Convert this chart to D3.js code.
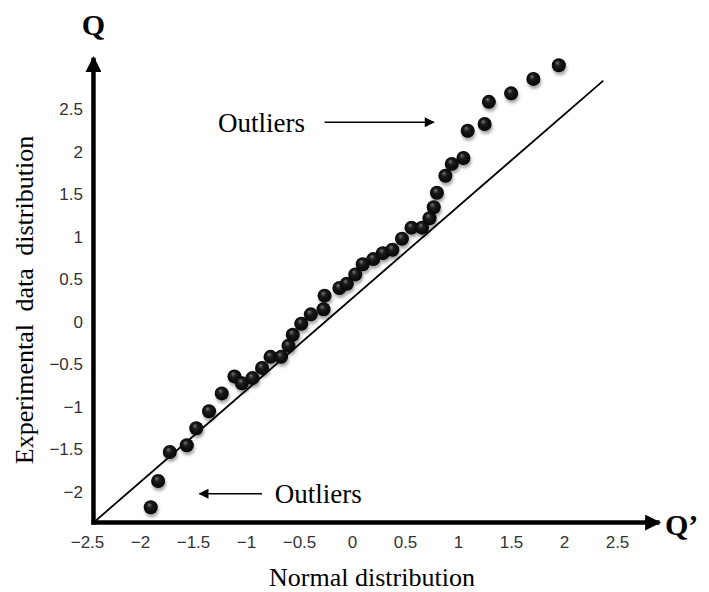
<!DOCTYPE html>
<html>
<head>
<meta charset="utf-8">
<script src="https://cdn.jsdelivr.net/npm/d3@7"></script>
<style>
  body { margin: 0; background: #fff; }
  .tick text { font-family: "Liberation Sans", Arial, sans-serif; font-size: 17px; fill: #333; }
  .serif { font-family: "Liberation Serif", "Times New Roman", serif; fill: #000; }
</style>
</head>
<body>
<div id="graph"></div>
<script>
// values
const xTicks = [-2.5, -2, -1.5, -1, -0.5, 0, 0.5, 1, 1.5, 2, 2.5];
const yTicks = [-2, -1.5, -1, -0.5, 0, 0.5, 1, 1.5, 2, 2.5];
const normalQ = [-1.88, -1.81, -1.70, -1.54, -1.45, -1.33, -1.21, -1.09, -1.02, -0.92,
  -0.83, -0.75, -0.65, -0.58, -0.54, -0.46, -0.37, -0.25, -0.24, -0.10,
  -0.03, 0.05, 0.12, 0.22, 0.31, 0.40, 0.49, 0.58, 0.68, 0.75,
  0.79, 0.82, 0.90, 0.96, 1.07, 1.11, 1.27, 1.31, 1.52, 1.73, 1.97];
const expQ = [-2.18, -1.87, -1.53, -1.45, -1.25, -1.05, -0.84, -0.64, -0.72, -0.66,
  -0.54, -0.41, -0.41, -0.28, -0.15, -0.02, 0.09, 0.15, 0.31, 0.40,
  0.45, 0.56, 0.68, 0.74, 0.81, 0.85, 0.98, 1.11, 1.11, 1.22,
  1.35, 1.52, 1.72, 1.86, 1.93, 2.25, 2.33, 2.59, 2.69, 2.86, 3.02];
const refLine = [[-2.42, -2.36], [2.39, 2.84]];
const origin = [-2.42, -2.36];
const xAxisEnd = 2.92;
const yAxisEnd = 3.11;

const width = 709, height = 592;

const svg = d3.select('#graph')
  .append('svg')
  .attr('width', width)
  .attr('height', height);

const x = d3.scaleLinear().domain([-2.5, 2.5]).range([85, 615]);
const y = d3.scaleLinear().domain([-2.5, 2.5]).range([534.5, 109.5]);

const defs = svg.append('defs');
const grad = defs.append('radialGradient')
  .attr('id', 'ball')
  .attr('cx', '50%').attr('cy', '50%').attr('r', '55%')
  .attr('fx', '38%').attr('fy', '30%');
grad.append('stop').attr('offset', '0%').attr('stop-color', '#777');
grad.append('stop').attr('offset', '35%').attr('stop-color', '#1c1c1c');
grad.append('stop').attr('offset', '100%').attr('stop-color', '#000');

const shadow = defs.append('filter')
  .attr('id', 'shadow')
  .attr('x', '-50%').attr('y', '-50%').attr('width', '200%').attr('height', '200%');
shadow.append('feDropShadow')
  .attr('dx', 1).attr('dy', 3).attr('stdDeviation', 1.8)
  .attr('flood-color', '#000').attr('flood-opacity', 0.35);

const marker = (id) => defs.append('marker')
  .attr('id', id)
  .attr('viewBox', '0 0 10 10')
  .attr('refX', 9).attr('refY', 5)
  .attr('markerUnits', 'userSpaceOnUse')
  .attr('orient', 'auto');
marker('bigArrow').attr('markerWidth', 18).attr('markerHeight', 16)
  .append('path').attr('d', 'M0,0 L10,5 L0,10 Z').attr('fill', '#000');
marker('smallArrow').attr('markerWidth', 13).attr('markerHeight', 10)
  .append('path').attr('d', 'M0,0 L10,5 L0,10 Z').attr('fill', '#000');

// tick labels
svg.append('g')
  .attr('class', 'axis axis--x')
  .attr('transform', 'translate(2, 530)')
  .call(d3.axisBottom(x).tickValues(xTicks).tickSize(0).tickPadding(6).tickFormat(d3.format('')))
  .call(g => g.select('.domain').remove());

svg.append('g')
  .attr('class', 'axis axis--y')
  .attr('transform', 'translate(88, 0)')
  .call(d3.axisLeft(y).tickValues(yTicks).tickSize(0).tickPadding(5).tickFormat(d3.format('')))
  .call(g => g.select('.domain').remove());

svg.selectAll('.tick text').attr('font-family', null).attr('font-size', null);

// axis arrows
svg.append('line')
  .attr('x1', x(origin[0]) - 2).attr('y1', y(origin[1]))
  .attr('x2', x(xAxisEnd)).attr('y2', y(origin[1]))
  .attr('stroke', '#000').attr('stroke-width', 4.5)
  .attr('marker-end', 'url(#bigArrow)');

svg.append('line')
  .attr('x1', x(origin[0])).attr('y1', y(origin[1]) + 2)
  .attr('x2', x(origin[0])).attr('y2', y(yAxisEnd))
  .attr('stroke', '#000').attr('stroke-width', 4.5)
  .attr('marker-end', 'url(#bigArrow)');

// reference line
svg.append('line')
  .attr('x1', x(refLine[0][0])).attr('y1', y(refLine[0][1]))
  .attr('x2', x(refLine[1][0])).attr('y2', y(refLine[1][1]))
  .attr('stroke', '#000').attr('stroke-width', 1.8);

// points
svg.append('g')
  .attr('filter', 'url(#shadow)')
  .selectAll('circle')
  .data(normalQ.map((d, i) => [d, expQ[i]]))
  .join('circle')
  .attr('cx', d => x(d[0]))
  .attr('cy', d => y(d[1]))
  .attr('r', 7)
  .attr('fill', 'url(#ball)');

// annotations
svg.append('line')
  .attr('x1', x(-0.24)).attr('y1', y(2.35))
  .attr('x2', x(0.79)).attr('y2', y(2.35))
  .attr('stroke', '#000').attr('stroke-width', 1.5)
  .attr('marker-end', 'url(#smallArrow)');
svg.append('text')
  .attr('class', 'serif')
  .attr('x', x(-1.245)).attr('y', y(2.23))
  .attr('font-size', 27)
  .text('Outliers');

svg.append('line')
  .attr('x1', x(-0.83)).attr('y1', y(-2.02))
  .attr('x2', x(-1.42)).attr('y2', y(-2.02))
  .attr('stroke', '#000').attr('stroke-width', 1.5)
  .attr('marker-end', 'url(#smallArrow)');
svg.append('text')
  .attr('class', 'serif')
  .attr('x', x(-0.71)).attr('y', y(-2.13))
  .attr('font-size', 27)
  .text('Outliers');

// axis titles
svg.append('text')
  .attr('class', 'serif')
  .attr('x', x(origin[0])).attr('y', 35)
  .attr('text-anchor', 'middle')
  .attr('font-size', 30).attr('font-weight', 'bold')
  .text('Q');

svg.append('text')
  .attr('class', 'serif')
  .attr('x', 665).attr('y', 535)
  .attr('font-size', 30).attr('font-weight', 'bold')
  .text('Q\u2019');

svg.append('text')
  .attr('class', 'serif')
  .attr('x', (x(-2.5) + x(2.5)) / 2 + 22).attr('y', 586)
  .attr('text-anchor', 'middle')
  .attr('font-size', 26)
  .text('Normal distribution');

svg.append('text')
  .attr('class', 'serif')
  .attr('transform', 'translate(33, 300) rotate(-90)')
  .attr('text-anchor', 'middle')
  .attr('font-size', 26)
  .attr('word-spacing', 6)
  .text('Experimental data distribution');
</script>
</body>
</html>
